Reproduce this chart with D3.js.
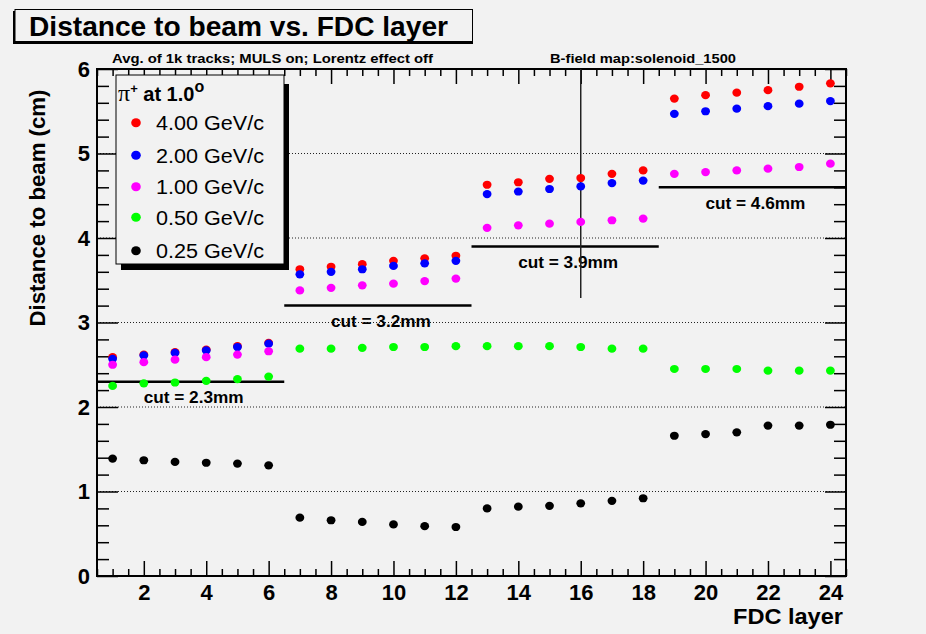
<!DOCTYPE html>
<html>
<head>
<meta charset="utf-8">
<script src="https://cdn.jsdelivr.net/npm/d3@7"></script>
<style>
  html, body { margin: 0; padding: 0; background: #f2f2f2; }
  svg { display: block; }
  text { font-family: "Liberation Sans", Arial, Helvetica, sans-serif; }
</style>
</head>
<body>
<script>
// ---------------- data ----------------
const layers = [1,2,3,4,5,6,7,8,9,10,11,12,13,14,15,16,17,18,19,20,21,22,23,24];
const seriesNames = ["4.00 GeV/c", "2.00 GeV/c", "1.00 GeV/c", "0.50 GeV/c", "0.25 GeV/c"];
const seriesColors = ["#ff0000", "#0000ff", "#ff00ff", "#00ff00", "#000000"];
const p400 = [2.59,2.62,2.65,2.68,2.72,2.76, 3.63,3.66,3.69,3.73,3.76,3.79, 4.63,4.66,4.70,4.71,4.76,4.80, 5.65,5.69,5.72,5.75,5.79,5.83];
const p200 = [2.57,2.61,2.64,2.67,2.71,2.75, 3.57,3.60,3.63,3.67,3.70,3.73, 4.52,4.55,4.58,4.61,4.65,4.68, 5.47,5.50,5.53,5.56,5.59,5.62];
const p100 = [2.50,2.53,2.56,2.59,2.62,2.66, 3.38,3.41,3.44,3.46,3.49,3.52, 4.12,4.15,4.17,4.19,4.21,4.23, 4.76,4.78,4.80,4.82,4.84,4.88];
const p050 = [2.25,2.28,2.29,2.31,2.33,2.36, 2.69,2.69,2.70,2.71,2.71,2.72, 2.72,2.72,2.72,2.71,2.69,2.69, 2.45,2.45,2.45,2.43,2.43,2.43];
const p025 = [1.39,1.37,1.35,1.34,1.33,1.31, 0.69,0.66,0.64,0.61,0.59,0.58, 0.80,0.82,0.83,0.86,0.89,0.92, 1.66,1.68,1.70,1.78,1.78,1.79];
const seriesValues = [p400, p200, p100, p050, p025];

const cutValues = [2.3, 3.2, 3.9, 4.6];
const cutStart  = [0.5, 6.5, 12.5, 18.5];
const cutEnd    = [6.5, 12.5, 18.5, 24.5];
const cutLabels = ["cut = 2.3mm", "cut = 3.2mm", "cut = 3.9mm", "cut = 4.6mm"];

const crossX = 16;           // vertical marker line
const crossY = [3.29, 6];

const xTicks = [2,4,6,8,10,12,14,16,18,20,22,24];
const yTicks = [0,1,2,3,4,5,6];
const gridY  = [1,2,3,4,5];

const titleText = "Distance to beam vs. FDC layer";
const subLeft   = "Avg. of 1k tracks; MULS on; Lorentz effect off";
const subRight  = "B-field map:solenoid_1500";
const xTitle    = "FDC layer";
const yTitle    = "Distance to beam (cm)";

// ---------------- drawing ----------------
const W = 926, H = 634;
const BG = "#f2f2f2";
const svg = d3.select("body").append("svg").attr("width", W).attr("height", H);
svg.append("rect").attr("width", W).attr("height", H).attr("fill", BG);

const x = d3.scaleLinear().domain([0.5, 24.5]).range([97, 846]);
const y = d3.scaleLinear().domain([0, 6]).range([576, 69]);

// grid lines (dotted)
svg.append("g").selectAll("line").data(gridY).join("line")
  .attr("x1", x(0.5)).attr("x2", x(24.5))
  .attr("y1", d => y(d)).attr("y2", d => y(d))
  .attr("stroke", "#222").attr("stroke-width", 1).attr("stroke-dasharray", "1,2");

// axes ticks
const xMinor = d3.range(0.5, 24.51, 0.5).filter(v => !xTicks.includes(v));
const yMinor = d3.range(0, 6.001, 0.2).map(v => +v.toFixed(1)).filter(v => !yTicks.includes(v));

function styleAxis(g) {
  g.select(".domain").remove();
  g.selectAll(".tick line").attr("stroke", "#000").attr("stroke-width", 1.5);
}

// bottom
svg.append("g").attr("transform", `translate(0,${y(0)})`)
  .call(d3.axisBottom(x).tickValues(xTicks).tickSize(-15).tickPadding(8.5).tickFormat(d3.format("d")))
  .call(styleAxis)
  .call(g => g.selectAll("text").attr("font-size", 22).attr("font-weight", "bold").attr("fill", "#000")
    .attr("font-family", "Liberation Sans, Arial, sans-serif"));
svg.append("g").attr("transform", `translate(0,${y(0)})`)
  .call(d3.axisBottom(x).tickValues(xMinor).tickSize(-7).tickFormat(""))
  .call(styleAxis);
// top
svg.append("g").attr("transform", `translate(0,${y(6)})`)
  .call(d3.axisTop(x).tickValues(xTicks).tickSize(-15).tickFormat(""))
  .call(styleAxis);
svg.append("g").attr("transform", `translate(0,${y(6)})`)
  .call(d3.axisTop(x).tickValues(xMinor).tickSize(-7).tickFormat(""))
  .call(styleAxis);
// left
svg.append("g").attr("transform", `translate(${x(0.5)},0)`)
  .call(d3.axisLeft(y).tickValues(yTicks).tickSize(-21).tickPadding(7).tickFormat(d3.format("d")))
  .call(styleAxis)
  .call(g => g.selectAll("text").attr("font-size", 22).attr("font-weight", "bold").attr("fill", "#000")
    .attr("font-family", "Liberation Sans, Arial, sans-serif"));
svg.append("g").attr("transform", `translate(${x(0.5)},0)`)
  .call(d3.axisLeft(y).tickValues(yMinor).tickSize(-12).tickFormat(""))
  .call(styleAxis);
// right
svg.append("g").attr("transform", `translate(${x(24.5)},0)`)
  .call(d3.axisRight(y).tickValues(yTicks).tickSize(-21).tickFormat(""))
  .call(styleAxis);
svg.append("g").attr("transform", `translate(${x(24.5)},0)`)
  .call(d3.axisRight(y).tickValues(yMinor).tickSize(-12).tickFormat(""))
  .call(styleAxis);

// frame
svg.append("rect").attr("x", x(0.5)).attr("y", y(6))
  .attr("width", x(24.5) - x(0.5)).attr("height", y(0) - y(6))
  .attr("fill", "none").attr("stroke", "#000").attr("stroke-width", 2);

// cut lines
svg.append("g").selectAll("line").data(cutValues).join("line")
  .attr("x1", (d, i) => x(cutStart[i])).attr("x2", (d, i) => x(cutEnd[i]))
  .attr("y1", d => y(d)).attr("y2", d => y(d))
  .attr("stroke", "#000").attr("stroke-width", 2.5);
svg.append("g").selectAll("text").data(cutValues).join("text")
  .attr("x", (d, i) => x((cutStart[i] + cutEnd[i]) / 2) + 3)
  .attr("y", d => y(d) + 21.5)
  .attr("text-anchor", "middle").attr("font-size", 16).attr("font-weight", "bold")
  .attr("textLength", 100).attr("lengthAdjust", "spacingAndGlyphs")
  .text((d, i) => cutLabels[i]);

// vertical marker line
svg.append("line").attr("x1", x(crossX)).attr("x2", x(crossX))
  .attr("y1", y(crossY[0])).attr("y2", y(crossY[1]))
  .attr("stroke", "#222").attr("stroke-width", 1.5);

// data points
seriesValues.forEach((vals, si) => {
  svg.append("g").selectAll("ellipse").data(vals).join("ellipse")
    .attr("cx", (d, i) => x(layers[i]))
    .attr("cy", d => y(d))
    .attr("rx", 4.4).attr("ry", 4.1)
    .attr("fill", seriesColors[si]);
});

// legend
const L = { x: 116, y: 75, w: 168, h: 189 };
svg.append("rect").attr("x", L.x + 5).attr("y", L.y + 9).attr("width", L.w).attr("height", L.h - 3)
  .attr("fill", "#000");
svg.append("rect").attr("x", L.x).attr("y", L.y).attr("width", L.w).attr("height", L.h)
  .attr("fill", BG).attr("stroke", "#000").attr("stroke-width", 1);
const hdr = svg.append("text").attr("x", 118).attr("y", 101).attr("font-size", 20);
hdr.append("tspan").attr("font-family", "Liberation Serif, Times New Roman, serif").attr("font-size", 24).text("π");
hdr.append("tspan").attr("dy", -8).attr("font-size", 13).attr("font-weight", "bold").text("+");
hdr.append("tspan").attr("dy", 8).attr("font-weight", "bold").text(" at 1.0");
hdr.append("tspan").attr("dy", -9).attr("font-size", 16).attr("font-weight", "bold").text("o");
const legY = [122.7, 155.3, 186.7, 217.3, 250.7];
const leg = svg.append("g").selectAll("g").data(seriesNames).join("g");
leg.append("ellipse").attr("cx", 136).attr("cy", (d, i) => legY[i])
  .attr("rx", 4.8).attr("ry", 4.5).attr("fill", (d, i) => seriesColors[i]);
leg.append("text").attr("x", 156).attr("y", (d, i) => legY[i] + 7.5)
  .attr("font-size", 20).attr("textLength", 108).attr("lengthAdjust", "spacingAndGlyphs")
  .text(d => d);

// title box
svg.append("rect").attr("x", 13).attr("y", 11).attr("width", 460).attr("height", 33).attr("fill", "#000");
svg.append("rect").attr("x", 15).attr("y", 9.5).attr("width", 457.5).attr("height", 32)
  .attr("fill", BG).attr("stroke", "#000").attr("stroke-width", 1);
svg.append("text").attr("x", 29).attr("y", 36).attr("font-size", 27).attr("font-weight", "bold")
  .attr("textLength", 419).attr("lengthAdjust", "spacingAndGlyphs").text(titleText);

// subtitles
svg.append("text").attr("x", 112).attr("y", 63).attr("font-size", 13.5).attr("font-weight", "bold")
  .attr("textLength", 321).attr("lengthAdjust", "spacingAndGlyphs").text(subLeft);
svg.append("text").attr("x", 550).attr("y", 63).attr("font-size", 13.5).attr("font-weight", "bold")
  .attr("textLength", 186).attr("lengthAdjust", "spacingAndGlyphs").text(subRight);

// axis titles
svg.append("text").attr("x", 843).attr("y", 624).attr("text-anchor", "end")
  .attr("font-size", 22).attr("font-weight", "bold")
  .attr("textLength", 110).attr("lengthAdjust", "spacingAndGlyphs").text(xTitle);
svg.append("text").attr("transform", "translate(45,208) rotate(-90)").attr("text-anchor", "middle")
  .attr("font-size", 22).attr("font-weight", "bold")
  .attr("textLength", 237).attr("lengthAdjust", "spacingAndGlyphs").text(yTitle);
</script>
</body>
</html>
